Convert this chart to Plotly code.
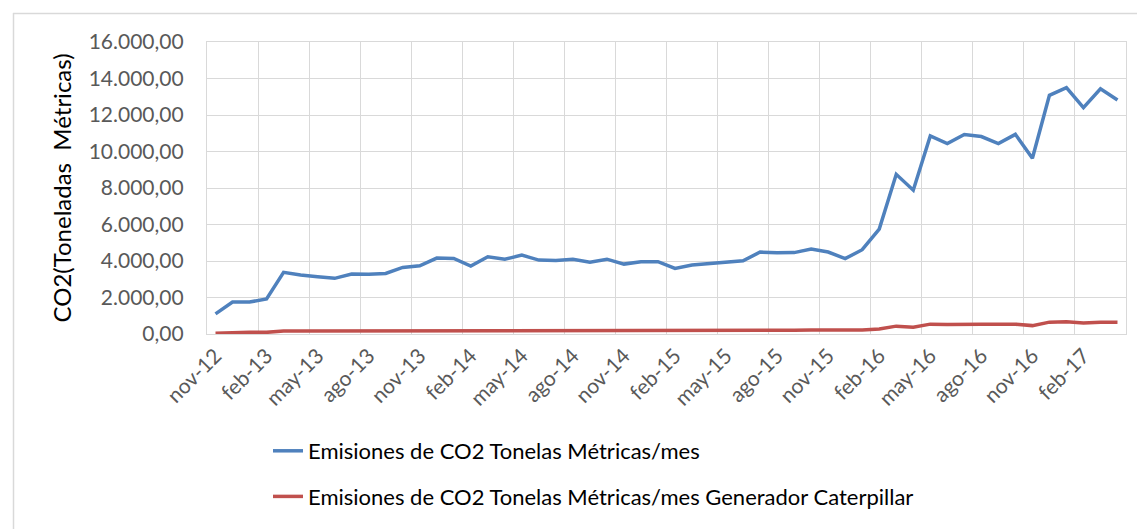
import plotly.graph_objects as go

months = [
    "nov-12", "dic-12", "ene-13", "feb-13", "mar-13", "abr-13", "may-13", "jun-13", "jul-13", "ago-13",
    "sep-13", "oct-13", "nov-13", "dic-13", "ene-14", "feb-14", "mar-14", "abr-14", "may-14", "jun-14",
    "jul-14", "ago-14", "sep-14", "oct-14", "nov-14", "dic-14", "ene-15", "feb-15", "mar-15", "abr-15",
    "may-15", "jun-15", "jul-15", "ago-15", "sep-15", "oct-15", "nov-15", "dic-15", "ene-16", "feb-16",
    "mar-16", "abr-16", "may-16", "jun-16", "jul-16", "ago-16", "sep-16", "oct-16", "nov-16", "dic-16",
    "ene-17", "feb-17", "mar-17", "abr-17",
]

emisiones_total = [
    1100, 1750, 1750, 1920, 3380, 3230, 3140, 3050, 3290, 3270,
    3320, 3650, 3740, 4160, 4140, 3720, 4230, 4100, 4320, 4050,
    4030, 4100, 3940, 4100, 3830, 3960, 3960, 3590, 3780, 3850,
    3960, 4010, 4490, 4450, 4460, 4650, 4490, 4130, 4620, 5750,
    8750, 7880, 10850, 10430, 10930, 10820, 10430, 10940, 9630, 13080,
    13500, 12400, 13430, 12820,
]

emisiones_generador = [
    40, 80, 90, 90, 170, 165, 165, 165, 165, 165,
    170, 180, 190, 200, 200, 190, 200, 200, 200, 190,
    180, 190, 180, 190, 180, 180, 180, 170, 180, 180,
    180, 190, 210, 210, 210, 220, 210, 200, 220, 270,
    430, 370, 540, 520, 540, 540, 530, 540, 460, 650,
    670, 600, 650, 640,
]

series_names = [
    "Emisiones de CO2 Tonelas Métricas/mes",
    "Emisiones de CO2 Tonelas Métricas/mes Generador Caterpillar",
]
series_colors = ["#4F81BD", "#C0504D"]

FONT = "Lato, 'Open Sans', sans-serif"

fig = go.Figure()
for name, vals, col, grp in zip(series_names, [emisiones_total, emisiones_generador], series_colors, ["a", "b"]):
    fig.add_trace(go.Scatter(
        x=months, y=vals, mode="lines", name=name, legendgroup=grp,
        line=dict(color=col, width=3.5),
    ))

W, H = 1145, 529
L, R, T, B = 199, 27, 34, 203
pw, ph = W - L - R, H - T - B

def px_x(p):
    return (p - L) / pw

def px_y(p):
    return (H - B - p) / ph

fig.update_layout(
    width=W, height=H,
    margin=dict(l=L, r=R, t=T, b=B),
    paper_bgcolor="white", plot_bgcolor="white",
    separators=",.",
    font=dict(family=FONT, size=21, color="#595959"),
    showlegend=True,
    legend=dict(
        x=px_x(260), y=px_y(422), xanchor="left", yanchor="top",
        orientation="v", tracegroupgap=14,
        font=dict(family=FONT, size=22, color="#000000"),
        bgcolor="rgba(0,0,0,0)",
    ),
    xaxis=dict(
        type="category", range=[-0.5, len(months) - 0.5],
        tickmode="linear", tick0=0, dtick=3, tickson="boundaries",
        tickangle=-45, showgrid=True, gridcolor="#D9D9D9", gridwidth=1.3,
        showline=True, linecolor="#D9D9D9", linewidth=1.3, mirror=True,
        ticks="outside", ticklen=9, tickcolor="rgba(0,0,0,0)",
        tickfont=dict(family=FONT, size=21, color="#595959"),
        zeroline=False,
    ),
    yaxis=dict(
        range=[0, 16000], tickmode="linear", tick0=0, dtick=2000,
        tickformat=",.2f", showgrid=True, gridcolor="#D9D9D9", gridwidth=1.3,
        showline=True, linecolor="#D9D9D9", linewidth=1.3, mirror=True,
        ticks="outside", ticklen=18, tickcolor="rgba(0,0,0,0)",
        tickfont=dict(family=FONT, size=21, color="#595959"),
        title=dict(text="CO2(Toneladas  Métricas)", font=dict(family=FONT, size=24, color="#000000"), standoff=10),
        zeroline=False,
    ),
    shapes=[
        dict(type="line", xref="paper", yref="paper", x0=px_x(5.5), x1=px_x(5.5), y0=px_y(5), y1=px_y(540),
             line=dict(color="#D9D9D9", width=1.5)),
        dict(type="line", xref="paper", yref="paper", x0=px_x(5), x1=px_x(1160), y0=px_y(5.5), y1=px_y(5.5),
             line=dict(color="#D9D9D9", width=1.5)),
    ],
)

fig.write_html("out.html")
